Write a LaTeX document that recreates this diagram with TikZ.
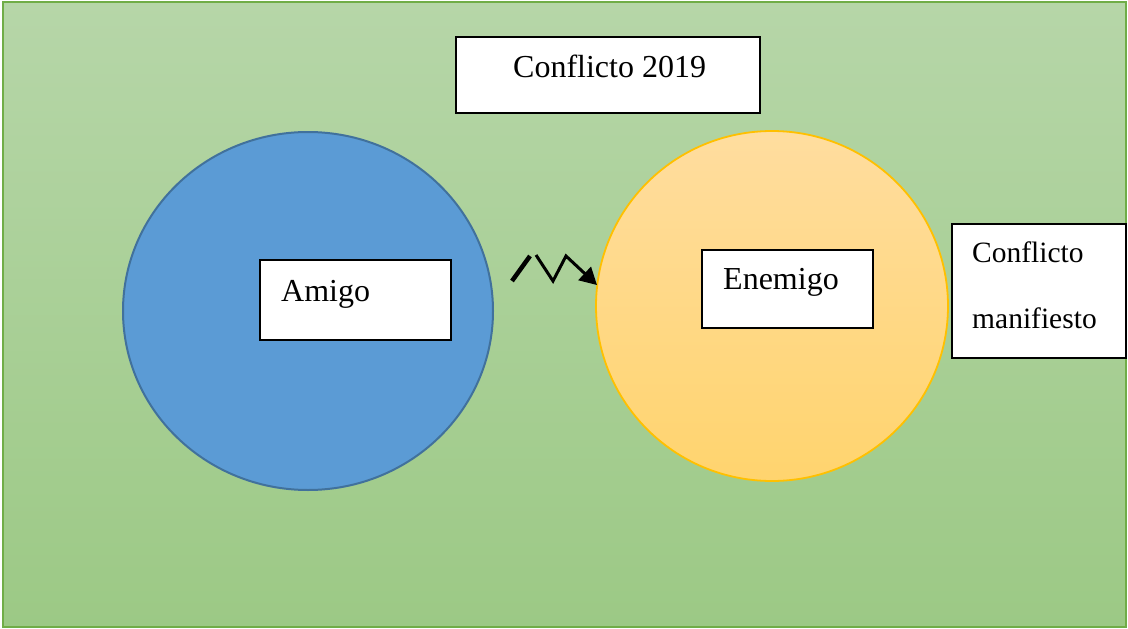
\documentclass[tikz,border=0pt]{standalone}
\usepackage{fontspec}
\setmainfont{Liberation Serif}
\usetikzlibrary{shapes.geometric,arrows.meta}
\definecolor{bgtop}{HTML}{B6D6A8}
\definecolor{bgbot}{HTML}{9CC985}
\definecolor{bgline}{HTML}{70AD47}
\definecolor{bluefill}{HTML}{5B9BD5}
\definecolor{blueline}{HTML}{41719C}
\definecolor{orgtop}{HTML}{FFDD9F}
\definecolor{orgbot}{HTML}{FFD46E}
\definecolor{orgline}{HTML}{FFC000}
\tikzset{
  wbox/.style={draw=black, line width=2pt, fill=white, rectangle, inner sep=0pt},
  lbl/.style={anchor=base west, inner sep=0pt, font=\fontsize{32}{38}\selectfont},
  slbl/.style={anchor=base west, inner sep=0pt, font=\fontsize{29.5}{35}\selectfont},
  zig/.style={line width=3pt, black},
}
\begin{document}
\begin{tikzpicture}[x=1pt,y=-1pt]
\useasboundingbox (0,0) rectangle (1128,629);
\fill[white] (0,0) rectangle (1128,629);
\shade[top color=bgtop, bottom color=bgbot] (3,2) rectangle (1126,627);
\draw[bgline, line width=2pt] (3,2) rectangle (1126,627);
% circles
\node[ellipse, draw=blueline, line width=2pt, fill=bluefill,
      minimum width=370pt, minimum height=358pt, inner sep=0pt] (amigoc) at (308,311) {};
\node[ellipse, draw=orgline, line width=1.8pt, top color=orgtop, bottom color=orgbot,
      minimum width=352pt, minimum height=350pt, inner sep=0pt] (enemyc) at (772,306) {};
% boxes
\node[wbox, minimum width=304pt, minimum height=76pt] (titlebox) at (607.5,75) {};
\node[lbl] (title) at (513,77) {Conflicto 2019};
\node[wbox, minimum width=191pt, minimum height=80pt] (amigobox) at (355,300) {};
\node[lbl] (amigo) at (281,301) {Amigo};
\node[wbox, minimum width=171pt, minimum height=78pt] (enemybox) at (787.5,289) {};
\node[lbl] (enemigo) at (723,289) {Enemigo};
\node[wbox, minimum width=174pt, minimum height=134pt] (manbox) at (1039,291) {};
\node[slbl] (man1) at (972,262) {Conflicto};
\node[slbl] (man2) at (972,328) {manifiesto};
% zigzag connector
\coordinate (z0) at (512,281);
\coordinate (z1) at (530,256);
\coordinate (z2) at (536,255);
\coordinate (z3) at (553,281);
\coordinate (z4) at (566,256);
\coordinate (tip) at (597,285);
\draw[line width=4.5pt, black] (z0) -- (z1);
\draw[zig, -{Triangle[length=17pt,width=18pt]}] (z2) -- (z3) -- (z4) -- (tip);
\end{tikzpicture}
\end{document}
